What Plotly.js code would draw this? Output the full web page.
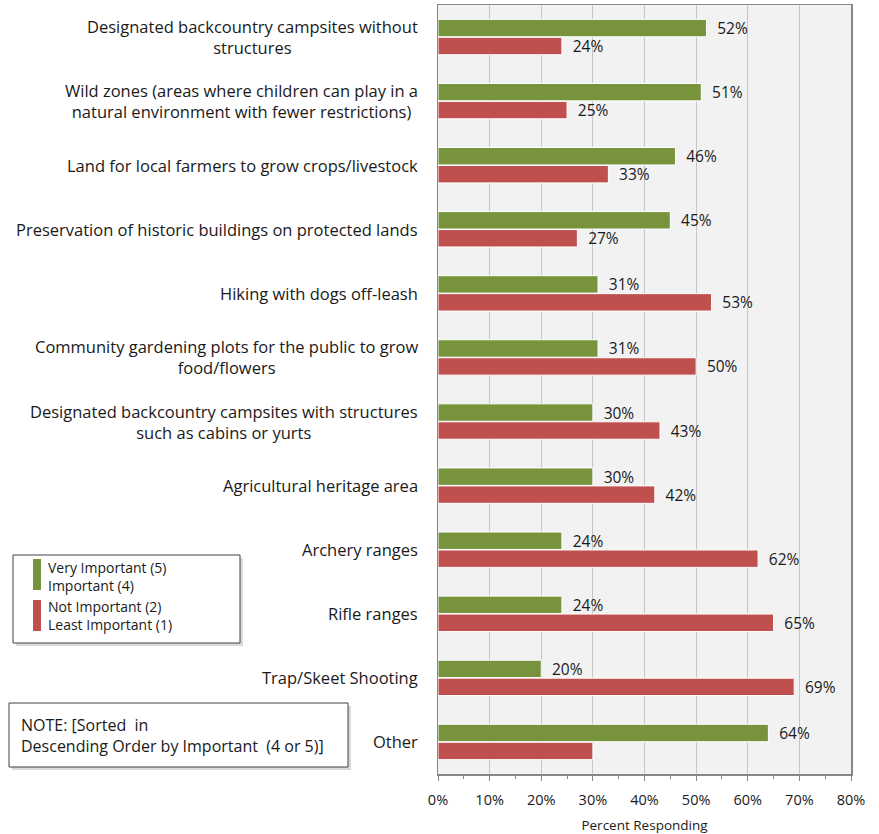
<!DOCTYPE html>
<html>
<head>
<meta charset="utf-8">
<script src="https://cdn.plot.ly/plotly-3.0.1.min.js"></script>
<style>html,body{margin:0;padding:0;background:#fff;}#chart{width:879px;height:834px;}</style>
</head>
<body>
<div id="chart"></div>
<script>
const categories = [
  "Designated backcountry campsites without<br>structures",
  "Wild zones (areas where children can play in a<br>natural environment with fewer restrictions)",
  "Land for local farmers to grow crops/livestock",
  "Preservation of historic buildings on protected lands",
  "Hiking with dogs off-leash",
  "Community gardening plots for the public to grow<br>food/flowers",
  "Designated backcountry campsites with structures<br>such as cabins or yurts",
  "Agricultural heritage area",
  "Archery ranges",
  "Rifle ranges",
  "Trap/Skeet Shooting",
  "Other"
];
const importantVals = [52, 51, 46, 45, 31, 31, 30, 30, 24, 24, 20, 64];
const notImportantVals = [24, 25, 33, 27, 53, 50, 43, 42, 62, 65, 69, 30];
const notImportantLabelShown = [true, true, true, true, true, true, true, true, true, true, true, false];
const xTickVals = [0, 10, 20, 30, 40, 50, 60, 70, 80];
const xTickText = ["0%", "10%", "20%", "30%", "40%", "50%", "60%", "70%", "80%"];
const legendNames = ["Very Important (5)<br>Important (4)", "Not Important (2)<br>Least Important (1)"];
const noteText = "NOTE: [Sorted&nbsp; in<br>Descending Order by Important&nbsp; (4 or 5)]";

const GREEN = "#77933c", RED = "#c0504d";
const FONT = "'Open Sans', Lato, sans-serif";

// layout geometry in pixels
const W = 879, H = 834, L = 438, R = 28, T = 5, B = 60;
const PW = W - L - R, PH = H - T - B;
const px = x => (x - L) / PW;
const py = y => (H - B - y) / PH;

const traces = [
  {
    type: "bar", orientation: "h", name: legendNames[0],
    y: categories, x: importantVals,
    text: importantVals.map(v => "\u2002" + v + "%"),
    textposition: "outside", cliponaxis: false, constraintext: "none",
    textfont: {family: FONT, size: 15.5, color: "#1a1a1a"},
    marker: {color: GREEN, line: {color: "#ffffff", width: 1}},
    hoverinfo: "x+y"
  },
  {
    type: "bar", orientation: "h", name: legendNames[1],
    y: categories, x: notImportantVals,
    text: notImportantVals.map((v, i) => notImportantLabelShown[i] ? "\u2002" + v + "%" : ""),
    textposition: "outside", cliponaxis: false, constraintext: "none",
    textfont: {family: FONT, size: 15.5, color: "#1a1a1a"},
    marker: {color: RED, line: {color: "#ffffff", width: 1}},
    hoverinfo: "x+y"
  }
];

const annotations = categories.map(c => ({
  xref: "paper", yref: "y", x: 0, y: c, xshift: -18,
  xanchor: "right", yanchor: "middle", align: "center",
  text: c, showarrow: false,
  font: {family: FONT, size: 16.5, color: "#1a1a1a"}
}));

// legend box text
annotations.push(
  {xref: "paper", yref: "paper", x: px(46), y: py(576), xanchor: "left", yanchor: "middle", align: "left",
   text: legendNames[0], showarrow: false, font: {family: FONT, size: 14, color: "#1a1a1a"}},
  {xref: "paper", yref: "paper", x: px(46), y: py(615), xanchor: "left", yanchor: "middle", align: "left",
   text: legendNames[1], showarrow: false, font: {family: FONT, size: 14, color: "#1a1a1a"}},
  {xref: "paper", yref: "paper", x: px(19), y: py(735), xanchor: "left", yanchor: "middle", align: "left",
   text: noteText, showarrow: false, font: {family: FONT, size: 16, color: "#1a1a1a"}}
);

const shapes = [
  // legend box shadow + box
  {type: "rect", xref: "paper", yref: "paper", x0: px(16), x1: px(243), y0: py(558), y1: py(646),
   fillcolor: "rgba(0,0,0,0.15)", line: {width: 0}, layer: "above"},
  {type: "rect", xref: "paper", yref: "paper", x0: px(13), x1: px(240), y0: py(555), y1: py(643),
   fillcolor: "#ffffff", line: {color: "#404040", width: 1}, layer: "above"},
  {type: "rect", xref: "paper", yref: "paper", x0: px(33), x1: px(41), y0: py(559), y1: py(590),
   fillcolor: GREEN, line: {width: 0}, layer: "above"},
  {type: "rect", xref: "paper", yref: "paper", x0: px(33), x1: px(41), y0: py(600), y1: py(631),
   fillcolor: RED, line: {width: 0}, layer: "above"},
  // note box shadow + box
  {type: "rect", xref: "paper", yref: "paper", x0: px(12), x1: px(351), y0: py(706), y1: py(770),
   fillcolor: "rgba(0,0,0,0.15)", line: {width: 0}, layer: "above"},
  {type: "rect", xref: "paper", yref: "paper", x0: px(9), x1: px(348), y0: py(703), y1: py(767),
   fillcolor: "#ffffff", line: {color: "#404040", width: 1}, layer: "above"}
];

const layout = {
  width: W, height: H,
  margin: {l: L, r: R, t: T, b: B, pad: 0},
  paper_bgcolor: "#ffffff", plot_bgcolor: "#f2f2f2",
  barmode: "group", bargap: 0.44, bargroupgap: 0.03,
  showlegend: false,
  font: {family: FONT, size: 14, color: "#1a1a1a"},
  xaxis: {
    range: [0, 80], tickvals: xTickVals, ticktext: xTickText,
    showgrid: true, gridcolor: "#c6c6c6", gridwidth: 1,
    zeroline: false, showline: true, linecolor: "#878787", linewidth: 1.5, mirror: true,
    ticks: "outside", ticklen: 5, tickcolor: "#878787",
    ticklabelstandoff: 7,
    minor: {dtick: 5, ticks: "outside", ticklen: 3, tickcolor: "#878787", showgrid: false},
    tickfont: {family: FONT, size: 14.5, color: "#1a1a1a"},
    title: {text: "Percent Responding", font: {family: FONT, size: 13.5, color: "#1a1a1a"}, standoff: 14},
    fixedrange: true
  },
  yaxis: {
    autorange: "reversed", showticklabels: false, ticks: "",
    showgrid: false, zeroline: false, showline: true, linecolor: "#878787", linewidth: 1.5, mirror: true,
    fixedrange: true
  },
  annotations: annotations,
  shapes: shapes
};

Plotly.newPlot("chart", traces, layout, {displayModeBar: false, staticPlot: true});
</script>
</body>
</html>
